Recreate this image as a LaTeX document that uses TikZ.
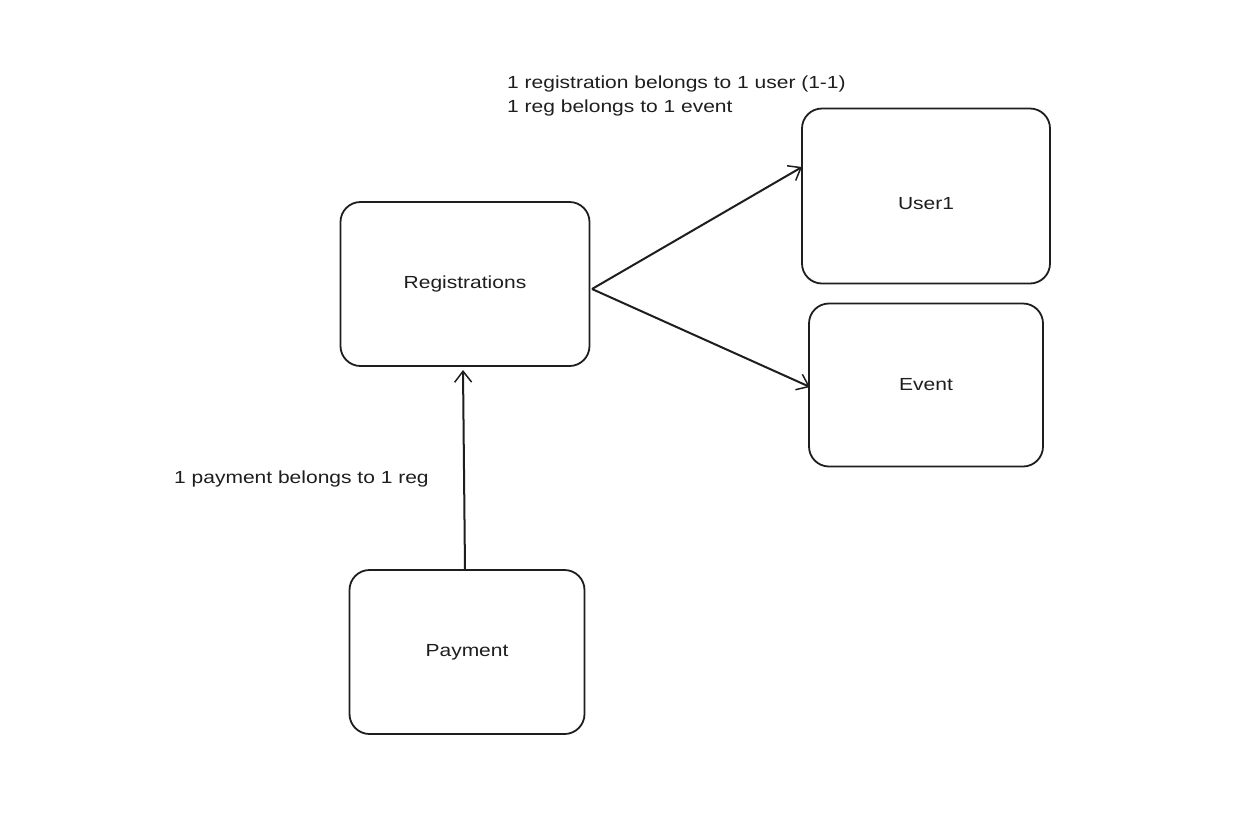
\documentclass[tikz,border=0pt]{standalone}
\usepackage{fontspec}
\setmainfont{Liberation Sans}[FakeStretch=1.2]
\usetikzlibrary{arrows.meta}
\definecolor{ink}{HTML}{1E1E1E}
\begin{document}
\begin{tikzpicture}[x=1pt,y=-1pt,
  box/.style={draw=ink,line width=1.8pt,rounded corners=20pt,fill=white,inner sep=0pt,text=ink,font=\fontsize{17.5}{21}\selectfont},
  conn/.style={draw=ink,line width=2pt,-{Straight Barb[length=11pt,width=17pt,line width=1.5pt]}},
  lbl/.style={text=ink,font=\fontsize{17.5}{24}\selectfont,inner sep=0pt,align=left}]
\useasboundingbox[fill=white] (0,0) rectangle (1256,831);
\node[box,minimum width=249pt,minimum height=164pt] (reg) at (465,284) {Registrations};
\node[box,minimum width=248pt,minimum height=175pt] (user) at (926,196) {};
\node[text=ink,font=\fontsize{17.5}{21}\selectfont] (userlbl) at (926,204) {User1};
\node[box,minimum width=234pt,minimum height=163pt] (event) at (926,385) {Event};
\node[box,minimum width=235pt,minimum height=164pt] (pay) at (467,652) {Payment};
\coordinate (rr) at (592,289);
\coordinate (ul) at (802,167);
\coordinate (el) at (810,387);
\coordinate (pt) at (465,570);
\coordinate (rb) at (463,370);
\draw[conn] (rr) -- (ul);
\draw[conn] (rr) -- (el);
\draw[conn] (pt) -- (rb);
\node[lbl,anchor=north west] (t1) at (507,76) {1 registration belongs to 1 user (1-1)\\1 reg belongs to 1 event};
\node[lbl,anchor=west] (t2) at (174,479) {1 payment belongs to 1 reg};
\end{tikzpicture}
\end{document}
